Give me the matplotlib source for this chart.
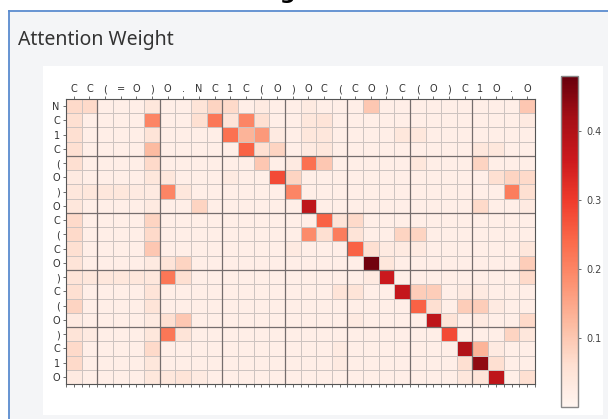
import numpy as np
import matplotlib
matplotlib.use("Agg")
import matplotlib.pyplot as plt
from matplotlib.patches import Rectangle
from matplotlib.lines import Line2D

# reactant SMILES along the top, product SMILES down the side
col_tokens = list("CC(=O)O.NC1C(O)OC(CO)C(O)C1O.O")
row_tokens = list("NC1C(O)OC(CO)C(O)C1O")

attn = np.array([
    [0.07,0.07,0.02,0.02,0.02,0.04,0.02,0.02,0.05,0.08,0.07,0.02,0.03,0.02,0.02,0.03,0.02,0.02,0.02,0.10,0.02,0.02,0.02,0.02,0.02,0.02,0.02,0.02,0.02,0.10],
    [0.06,0.02,0.02,0.02,0.02,0.20,0.02,0.02,0.06,0.22,0.05,0.20,0.06,0.02,0.02,0.04,0.05,0.02,0.02,0.02,0.02,0.02,0.02,0.02,0.02,0.02,0.02,0.02,0.02,0.03],
    [0.06,0.02,0.02,0.02,0.02,0.05,0.02,0.02,0.02,0.02,0.23,0.13,0.17,0.03,0.02,0.04,0.04,0.02,0.02,0.02,0.02,0.04,0.04,0.02,0.02,0.02,0.02,0.02,0.02,0.02],
    [0.06,0.02,0.02,0.02,0.02,0.12,0.02,0.02,0.02,0.02,0.02,0.25,0.06,0.08,0.02,0.03,0.04,0.02,0.02,0.02,0.02,0.02,0.02,0.02,0.02,0.02,0.04,0.04,0.02,0.02],
    [0.06,0.02,0.02,0.02,0.02,0.07,0.02,0.02,0.02,0.02,0.02,0.02,0.10,0.02,0.03,0.23,0.10,0.02,0.02,0.02,0.02,0.02,0.04,0.02,0.02,0.02,0.08,0.02,0.02,0.02],
    [0.03,0.02,0.02,0.02,0.02,0.04,0.04,0.02,0.02,0.02,0.03,0.02,0.02,0.28,0.08,0.02,0.02,0.02,0.02,0.02,0.02,0.02,0.02,0.02,0.02,0.02,0.02,0.06,0.08,0.07],
    [0.04,0.04,0.04,0.04,0.03,0.03,0.20,0.04,0.02,0.02,0.02,0.02,0.02,0.02,0.20,0.02,0.02,0.02,0.02,0.02,0.02,0.02,0.02,0.02,0.02,0.02,0.02,0.02,0.21,0.06],
    [0.04,0.02,0.02,0.02,0.02,0.03,0.02,0.02,0.08,0.02,0.02,0.02,0.02,0.02,0.02,0.38,0.02,0.02,0.02,0.02,0.02,0.02,0.02,0.02,0.02,0.02,0.07,0.02,0.02,0.03],
    [0.07,0.02,0.02,0.02,0.02,0.08,0.02,0.02,0.02,0.02,0.02,0.02,0.02,0.02,0.02,0.02,0.25,0.05,0.07,0.02,0.02,0.02,0.02,0.02,0.02,0.02,0.02,0.02,0.02,0.02],
    [0.07,0.02,0.02,0.02,0.02,0.07,0.02,0.02,0.02,0.02,0.02,0.02,0.02,0.02,0.02,0.19,0.06,0.21,0.05,0.02,0.02,0.08,0.08,0.02,0.02,0.02,0.02,0.02,0.02,0.02],
    [0.06,0.02,0.02,0.02,0.02,0.10,0.02,0.02,0.02,0.02,0.02,0.02,0.02,0.02,0.03,0.02,0.02,0.02,0.25,0.06,0.03,0.03,0.03,0.02,0.02,0.02,0.02,0.02,0.02,0.04],
    [0.05,0.02,0.02,0.02,0.02,0.03,0.05,0.08,0.02,0.02,0.02,0.02,0.02,0.02,0.02,0.02,0.02,0.02,0.02,0.47,0.04,0.02,0.02,0.02,0.02,0.02,0.02,0.02,0.02,0.09],
    [0.05,0.04,0.04,0.04,0.04,0.04,0.22,0.06,0.02,0.02,0.02,0.02,0.02,0.02,0.02,0.02,0.02,0.02,0.02,0.03,0.36,0.02,0.02,0.02,0.02,0.02,0.02,0.02,0.02,0.07],
    [0.06,0.02,0.02,0.02,0.02,0.05,0.02,0.02,0.02,0.02,0.02,0.02,0.02,0.02,0.02,0.02,0.02,0.05,0.05,0.02,0.02,0.37,0.09,0.09,0.02,0.03,0.03,0.02,0.02,0.02],
    [0.08,0.02,0.02,0.02,0.02,0.05,0.02,0.02,0.02,0.02,0.02,0.02,0.02,0.02,0.02,0.02,0.02,0.02,0.02,0.02,0.02,0.02,0.25,0.06,0.02,0.09,0.09,0.03,0.02,0.02],
    [0.03,0.02,0.02,0.02,0.02,0.03,0.06,0.10,0.02,0.02,0.02,0.02,0.02,0.02,0.02,0.02,0.02,0.02,0.03,0.02,0.02,0.02,0.02,0.38,0.05,0.02,0.03,0.02,0.02,0.07],
    [0.05,0.03,0.02,0.02,0.02,0.04,0.22,0.05,0.02,0.02,0.02,0.02,0.02,0.02,0.02,0.02,0.02,0.02,0.02,0.02,0.02,0.02,0.02,0.02,0.28,0.02,0.02,0.02,0.08,0.04],
    [0.07,0.02,0.02,0.02,0.02,0.07,0.02,0.02,0.02,0.02,0.02,0.02,0.02,0.02,0.02,0.02,0.02,0.03,0.02,0.02,0.02,0.02,0.02,0.02,0.02,0.40,0.13,0.03,0.02,0.02],
    [0.07,0.02,0.02,0.02,0.02,0.04,0.02,0.02,0.02,0.02,0.02,0.02,0.02,0.02,0.02,0.02,0.02,0.03,0.02,0.02,0.02,0.02,0.02,0.02,0.02,0.06,0.44,0.06,0.02,0.02],
    [0.03,0.02,0.02,0.02,0.02,0.04,0.04,0.05,0.03,0.02,0.02,0.02,0.02,0.02,0.02,0.02,0.02,0.02,0.02,0.02,0.02,0.02,0.02,0.02,0.02,0.04,0.05,0.38,0.02,0.06],
])
cbar_ticks = [0.1, 0.2, 0.3, 0.4]

W, H = 608, 419
fig = plt.figure(figsize=(W / 100, H / 100), dpi=100)
fig.patch.set_facecolor("white")

def box(x0, y0, x1, y1):
    # pixel box (top-left origin) -> figure fraction [l, b, w, h]
    return [x0 / W, 1 - y1 / H, (x1 - x0) / W, (y1 - y0) / H]

# panel background, blue frame, white plot card (kept behind the axes)
l, b, w, h = box(9, 12, 608, 419)
fig.patches.append(Rectangle((l, b), w, h, transform=fig.transFigure,
                             facecolor="#f4f5f7", edgecolor="none", zorder=-2))
l, b, w, h = box(43, 66, 603, 415)
fig.patches.append(Rectangle((l, b), w, h, transform=fig.transFigure,
                             facecolor="white", edgecolor="none", zorder=-1))
fig.lines.append(Line2D([8.5 / W, 1], [1 - 11.5 / H] * 2, transform=fig.transFigure,
                        color="#5a8bcf", lw=1.3, zorder=-1))
fig.lines.append(Line2D([8.5 / W] * 2, [0, 1 - 11.5 / H], transform=fig.transFigure,
                        color="#5a8bcf", lw=1.3, zorder=-1))

fig.text(18 / W, 1 - 40 / H, "Attention Weight", fontsize=14, family="Noto Sans",
         color="#333333", va="center", ha="left")
# caption of the figure above the panel, mostly scrolled out of view
fig.text(292 / W, 1 + 1 / H, "Fig. 6", fontsize=16, fontweight="bold",
         color="black", ha="center", va="baseline")

ax = fig.add_axes(box(66, 99, 535, 384))
mesh = ax.pcolormesh(attn, cmap="Reds", vmin=0, vmax=0.48,
                     edgecolors="#cdc3c0", linewidth=0.5)
ax.set_xlim(0, attn.shape[1])
ax.set_ylim(attn.shape[0], 0)

for xv in range(2, attn.shape[1], 4):
    ax.axvline(xv, color="#756d6d", lw=0.9)
for yv in range(4, attn.shape[0], 4):
    ax.axhline(yv, color="#756d6d", lw=0.9)

ax.xaxis.tick_top()
ax.set_xticks(np.arange(attn.shape[1]) + 0.5)
ax.set_xticklabels(col_tokens)
ax.set_yticks(np.arange(attn.shape[0]) + 0.5)
ax.set_yticklabels(row_tokens)
ax.set_xticks(np.arange(0, attn.shape[1] + 1), minor=True)
ax.tick_params(axis="both", which="major", labelsize=7, labelcolor="#333333",
               length=2.5, width=0.6, color="#555555", pad=2)
ax.tick_params(axis="x", which="major", top=True, bottom=True, labeltop=True,
               labelbottom=False, pad=1)
ax.tick_params(axis="x", which="minor", top=False, bottom=True, length=2,
               width=0.6, color="#555555")
for s in ax.spines.values():
    s.set_color("#555555")
    s.set_linewidth(0.8)

cax = fig.add_axes(box(561, 76, 578, 407))
cb = fig.colorbar(mesh, cax=cax, ticks=cbar_ticks)
cb.ax.tick_params(labelsize=7, labelcolor="#444444", length=2.5, width=0.6,
                  color="#555555")
cb.outline.set_edgecolor("#888888")
cb.outline.set_linewidth(1.0)

fig.savefig("out.png", dpi=100)
